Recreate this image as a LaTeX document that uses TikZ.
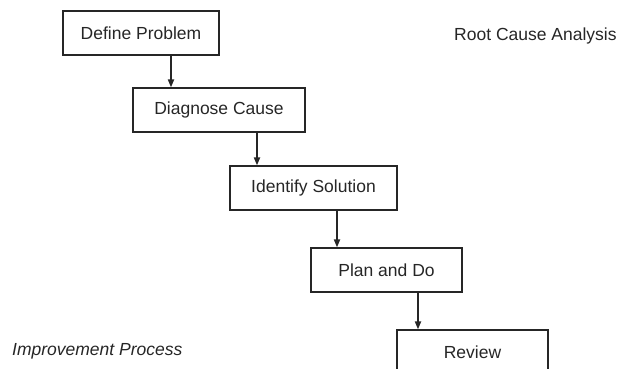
\documentclass[tikz,border=0pt]{standalone}
\usepackage{fontspec}
\setmainfont{Liberation Sans}
\usetikzlibrary{arrows.meta}
\begin{document}
\begin{tikzpicture}[x=1pt,y=-1pt,
  stepbox/.style={draw=black!85, line width=1.2pt, minimum height=44pt, inner sep=0pt,
    font=\fontsize{17.5}{20}\selectfont, text=black!85},
  flow/.style={line width=1.8pt, draw=black!85, -{Triangle[length=8pt,width=6pt]}},
  caption/.style={font=\fontsize{17.5}{20}\selectfont, text=black!85, inner sep=0pt}]
  \useasboundingbox (0,0) rectangle (621,369);
  \clip (0,0) rectangle (621,369);
  % process steps, each stepped down and to the right
  \node[stepbox, minimum width=156pt] (define) at (141,33) {Define Problem};
  \node[stepbox, minimum width=172pt] (diagnose) at (219,110) {Diagnose Cause};
  \node[stepbox, minimum width=167pt] (identify) at (313.5,188) {Identify Solution};
  \node[stepbox, minimum width=151pt] (plan) at (386.5,270) {Plan and Do};
  \node[stepbox, minimum width=151pt] (review) at (472.5,352) {Review};
  % connectors between consecutive steps
  \draw[flow] (define.south -| 171,0) -- (diagnose.north -| 171,0);
  \draw[flow] (diagnose.south -| 257,0) -- (identify.north -| 257,0);
  \draw[flow] (identify.south -| 337,0) -- (plan.north -| 337,0);
  \draw[flow] (plan.south -| 418,0) -- (review.north -| 418,0);
  % captions
  \node[caption, anchor=west] (rca) at (454,36) {Root Cause Analysis};
  \node[caption, anchor=west, font=\fontsize{17.5}{20}\selectfont\itshape] (improve) at (12,351) {Improvement Process};
\end{tikzpicture}
\end{document}
